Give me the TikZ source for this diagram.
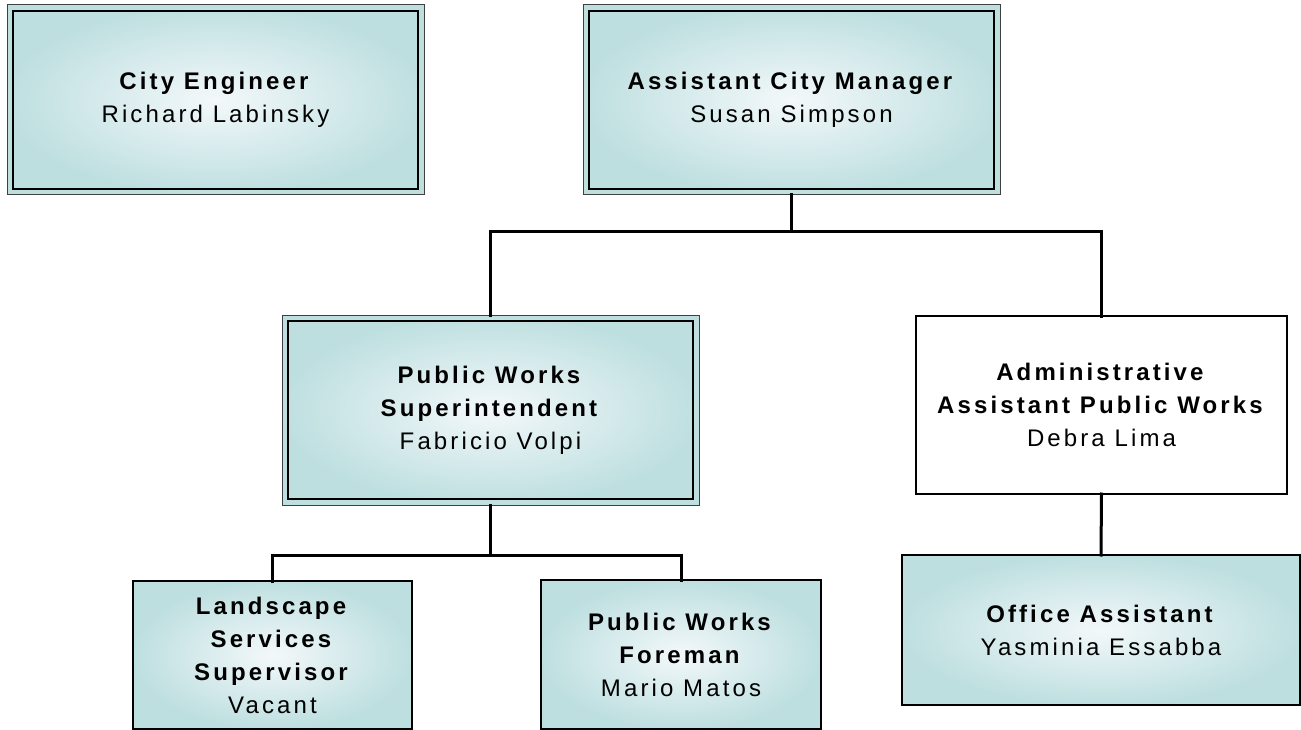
\documentclass[tikz,border=0pt]{standalone}
\usepackage{fontspec}
\setmainfont{Liberation Sans}[LetterSpace=13]
\usetikzlibrary{positioning}

\definecolor{boxedge}{RGB}{190,223,224}
\definecolor{boxmid}{RGB}{243,248,250}

\tikzset{
  PostStyle/.style = { rectangle, draw = black, line width = 1.4pt,
                       inner sep = 0pt, outer sep = 0pt, align = center,
                       font = \fontsize{24}{33}\selectfont },
  TealPost/.style  = { PostStyle, inner color = boxmid, outer color = boxedge },
  HeadPost/.style  = { TealPost, draw = black!75, line width = 1pt,
                       minimum width = 417pt, minimum height = 190pt,
                       path picture = {
                         \draw[black, line width = 2pt]
                           ([shift={(6pt,-6pt)}]path picture bounding box.north west)
                           rectangle
                           ([shift={(-6pt,6pt)}]path picture bounding box.south east);
                       } },
  LinkStyle/.style = { draw, black, line width = 3pt, line cap = rect } }

\begin{document}
\begin{tikzpicture}[x=1pt, y=-1pt]
  \useasboundingbox (0,0) rectangle (1301,730);

  \node[HeadPost] (engineer) at (215.5,100)
       {\textbf{City Engineer}\\Richard Labinsky};
  \node[HeadPost] (acm) at (791.5,100)
       {\textbf{Assistant City Manager}\\Susan Simpson};
  \node[HeadPost] (super) at (490.5,410)
       {\textbf{Public Works}\\\textbf{Superintendent}\\Fabricio Volpi};

  \node[PostStyle, fill = white, minimum width = 371pt, minimum height = 178pt]
       (admin) at (1101.5,405)
       {\textbf{Administrative}\\\textbf{Assistant Public Works}\\Debra Lima};

  \node[TealPost, minimum width = 279pt, minimum height = 148pt]
       (landscape) at (272.5,655)
       {\textbf{Landscape}\\\textbf{Services}\\\textbf{Supervisor}\\Vacant};
  \node[TealPost, minimum width = 280pt, minimum height = 149pt]
       (foreman) at (681,654.5)
       {\textbf{Public Works}\\\textbf{Foreman}\\Mario Matos};
  \node[TealPost, minimum width = 398pt, minimum height = 150pt]
       (office) at (1101,630)
       {\textbf{Office Assistant}\\Yasminia Essabba};

  \draw[LinkStyle] (acm.south) -- ++(0,37) -| (super.north);
  \draw[LinkStyle] (acm.south) -- ++(0,37) -| (admin.north);
  \draw[LinkStyle] (super.south) -- ++(0,50) -| (landscape.north);
  \draw[LinkStyle] (super.south) -- ++(0,50) -| (foreman.north);
  \draw[LinkStyle] (admin.south) -- (office.north);

\end{tikzpicture}
\end{document}
